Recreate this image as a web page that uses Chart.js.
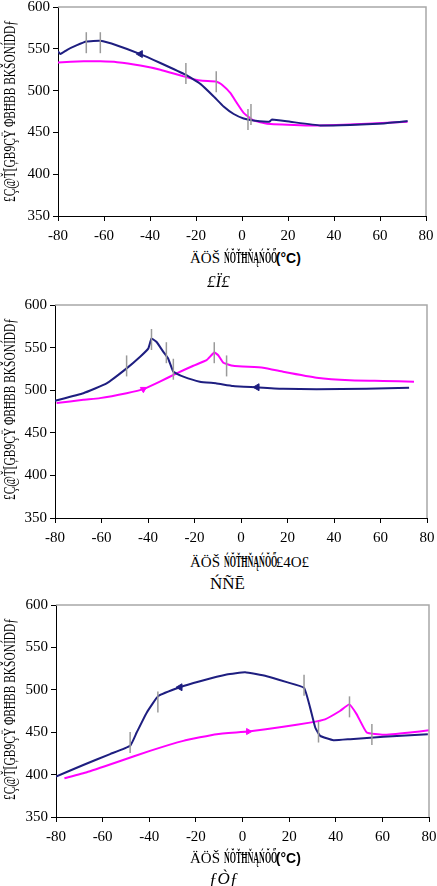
<!DOCTYPE html>
<html><head><meta charset="utf-8">
<script src="https://cdn.jsdelivr.net/npm/chart.js@4"></script>
<style>
html,body{margin:0;padding:0;background:#fff;overflow:hidden;width:437px;height:886px;position:relative;}
.box{position:absolute;left:0;}
.t{position:absolute;white-space:nowrap;color:#000;font-family:"Liberation Serif",serif;line-height:1;}
.yt{transform-origin:0 0;}
.sqw{display:inline-block;width:52px;overflow:visible;vertical-align:baseline;}
.sq{display:inline-block;transform:scaleX(0.5);transform-origin:0 50%;font-weight:bold;}
</style></head><body>

<script>
// ---- data (temperature °C, value) ----
const xTicks = [-80,-60,-40,-20,0,20,40,60,80];
const yTicks = [350,400,450,500,550,600];

// Panel (a)
const aBlueT = [-80,-79,-76,-72,-67.7,-61.6,-54.3,-44.2,-35.5,-24.6,-18.1,-12.3,-8,-3.6,0.7,5,10.9,12,13,21,34,47,61.6,72];
const aBlueV = [546.8,543.7,548.8,554,558.7,559.5,554,543.7,533,519,508,493,481,472,466.7,464.3,462.7,463,465.5,462.7,458.3,459,460.7,463.5];
const aMagT = [-80,-68.8,-61.6,-54.3,-44.2,-35.5,-25.4,-18.1,-11.2,-8.7,-5,-2.2,0.7,5,10.9,25.4,34,54.3,72];
const aMagV = [533.7,535,535,534,530,525,517,512,511,507,497,485,473.4,464.3,460.3,458.7,458.3,460.3,462.7];
const aMarkT = [-67.7,-61.6,-24.4,-11.2,2.6,3.9];
const aMarkV = [557.3,557.3,520.4,510.7,465.5,471.4];

// Panel (b)
const bBlueT = [-80,-67.8,-57.8,-49.2,-43.5,-39.9,-38.5,-36.3,-33.4,-31.3,-29.1,-24.8,-17.7,-10.5,-3.4,6.7,18.1,32.5,53.9,72.3];
const bBlueV = [487.6,496.5,508,525.6,539,548.8,560.5,556.6,545,537,521.7,515.9,510,508,505,503.5,501.6,501.2,501.6,503];
const bMagT = [-79.3,-67.8,-60.7,-49.2,-42,-34.9,-27.7,-20.5,-14.8,-11.5,-9.8,-7.6,-3.4,9.5,18.1,32.5,46.8,61.1,74.4];
const bMagV = [484.9,488.8,490.7,496.5,501.2,510,519.8,528.7,535.3,544.2,541,532.2,528.7,526.4,521.7,514.7,511.6,510.9,510];
const bMarkT = [-49.2,-38.5,-32.1,-29.1,-11.5,-6.2];
const bMarkV = [528.5,559.5,544,524.6,544,528.5];

// Panel (c)
const cBlueT = [-80,-68.3,-56.8,-48.2,-45.4,-41.1,-36.1,-26.8,-18.2,-6.8,1.1,10.4,19,26.4,29,31.2,33.3,39,46.2,60.5,79.5];
const cBlueV = [397.7,411.3,424.2,434,449.6,473,492.6,503,510,518,520.7,516,509,502.3,479,455.5,445.7,440.6,441.8,444.5,447.7];
const cMagT = [-76.4,-66.8,-54,-39.7,-25.4,-11.1,2.5,17.5,28.9,35.4,41.8,45.8,49,53.3,60.5,71.9,80];
const cMagV = [395.7,402.7,414.5,428,439.8,447.7,450.8,456.3,461.3,465.2,475,482.8,471,449.6,446.9,449.6,452.3];
const cMarkT = [-48.2,-36.3,26.4,32.6,45.9,55.5];
const cMarkV = [437.9,485.7,505.3,450.2,479.9,447.3];

// arrows: [T, V, direction] (-90 = left, 90 = right)
const aBlueArrow = [[-44.2,543.7,-90]];
const aMagArrow = [];
const bBlueArrow = [[6.9,503.5,-90]];
const bMagArrow = [[-42,501.2,60]];
const cBlueArrow = [[-26.8,503,-90]];
const cMagArrow = [[2.5,450.8,90]];

const BLUE = '#1e1e80', MAG = '#ff00ff', GREY = '#9a9a9a';
const zip = (t,v) => t.map((x,i)=>({x, y:v[i]}));

const frame = {
  id:'frame',
  afterDraw(ch){
    const a = ch.chartArea, c = ch.ctx;
    c.save(); c.strokeStyle = '#a8a8a8'; c.lineWidth = 1.5;
    c.beginPath(); c.moveTo(a.left, a.top); c.lineTo(a.right, a.top); c.lineTo(a.right, a.bottom); c.stroke();
    c.restore();
  }
};

function panel(L, R, T, B, bT, bV, mT, mV, kT, kV, bArr, mArr){
  const W = 470, H = (B - T) + 10 + 34;
  const div = document.createElement('div');
  div.className = 'box'; div.style.top = (T - 10) + 'px';
  const cv = document.createElement('canvas');
  cv.width = W; cv.height = H; cv.style.width = W+'px'; cv.style.height = H+'px';
  div.appendChild(cv); document.body.appendChild(div);
  const arrowDs = (arr, col, r) => ({
    data: arr.map(a=>({x:a[0], y:a[1]})), pointStyle:'triangle',
    rotation: arr.map(a=>a[2]), radius:r, backgroundColor:col, borderColor:col, borderWidth:1, showLine:false
  });
  new Chart(cv, {
    type:'scatter',
    data:{ datasets:[
      {data: zip(kT,kV), pointStyle:'line', rotation:90, radius:10.5, borderColor:GREY, borderWidth:1.5, showLine:false},
      {data: zip(bT,bV), showLine:true, borderColor:BLUE, borderWidth:2, pointRadius:0, tension:0.12},
      {data: zip(mT,mV), showLine:true, borderColor:MAG, borderWidth:2, pointRadius:0, tension:0.12},
      arrowDs(bArr, BLUE, 4), arrowDs(mArr, MAG, 3.5)
    ]},
    options:{
      responsive:false, animation:false, devicePixelRatio:1,
      layout:{padding:{top:10, left:0, right: W - R, bottom:0}},
      plugins:{legend:{display:false}, tooltip:{enabled:false}},
      scales:{
        x:{type:'linear', min:-80, max:80, afterBuildTicks: s => { s.ticks = xTicks.map(v=>({value:v})); },
           afterFit: s => { s.height = 34; },
           grid:{drawOnChartArea:false, drawTicks:true, tickLength:5, color:'#000'},
           border:{color:'#000', width:1},
           ticks:{color:'#000', padding:6, maxRotation:0, font:{family:'Liberation Serif', size:15}}},
        y:{type:'linear', min:350, max:600, afterBuildTicks: s => { s.ticks = yTicks.map(v=>({value:v})); },
           afterFit: s => { s.width = L; },
           grid:{drawOnChartArea:false, drawTicks:true, tickLength:5, color:'#000'},
           border:{color:'#000', width:1},
           ticks:{color:'#000', padding:3, font:{family:'Liberation Serif', size:15}}}
      }
    },
    plugins:[frame]
  });
}

panel(58, 426, 5, 216, aBlueT, aBlueV, aMagT, aMagV, aMarkT, aMarkV, aBlueArrow, aMagArrow);
panel(55, 427, 303, 518, bBlueT, bBlueV, bMagT, bMagV, bMarkT, bMarkV, bBlueArrow, bMagArrow);
panel(56, 429, 603, 817, cBlueT, cBlueV, cMagT, cMagV, cMarkT, cMarkV, cBlueArrow, cMagArrow);

// ---- text overlays ----
const yTitle = '£Ç@Ť[ĢB9ÇŸ ΦBĦBB BKŠONÍDDƒ';
const xTitleA = 'ÄÖŠ ', xTitleB = 'ŃŎŤĦŇĄŃŎŐ';
const captions = ['£Ï£', 'ŃÑĒ', 'ƒÒƒ'];
function addText(html, left, top, cls, style){
  const d = document.createElement('div'); d.className = 't ' + (cls||''); d.innerHTML = html;
  d.style.left = left+'px'; d.style.top = top+'px'; if (style) d.style.cssText += style;
  document.body.appendChild(d); return d;
}
[[1,202],[1,500],[1,800]].forEach(([l,bot])=>{
  const d = addText(yTitle, l, bot, 'yt', 'font-size:17px;');
  const w = d.offsetWidth;
  d.style.transform = 'rotate(-90deg) scaleX(' + (182 / w) + ')';
});
const xt = [[250,'(°C)'],[554,'£4O£'],[850,'(°C)']];
xt.forEach(([top,suf])=>{
  const sufHtml = suf === '(°C)'
    ? '<span style="font-family:Liberation Sans,Arial,sans-serif;font-weight:bold;font-size:14px">(°C)</span>'
    : '<span style="font-size:15px">'+suf+'</span>';
  addText('<span style="font-size:15px">'+xTitleA+'</span><span class="sqw"><span class="sq" style="font-size:16px">'+xTitleB+'</span></span>'+sufHtml, 190, top, '', '');
});
addText(captions[0], 207, 273, '', 'font-size:17px;font-style:italic;');
addText(captions[1], 210, 575, '', 'font-size:17px;');
addText(captions[2], 209, 870, '', 'font-size:17px;font-style:italic;');
</script>
</body></html>
